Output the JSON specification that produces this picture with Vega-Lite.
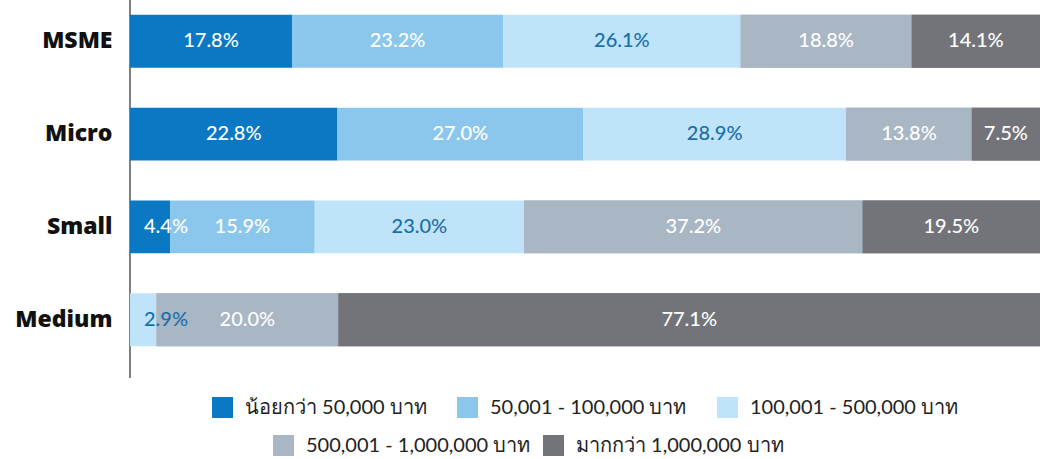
{
  "$schema": "https://vega.github.io/schema/vega-lite/v6.json",
  "width": 910,
  "height": 378,
  "autosize": "none",
  "padding": {"left": 130, "top": 0, "right": 0, "bottom": 81},
  "background": "white",
  "config": {"view": {"stroke": null}, "font": "Lato"},
  "data": {
    "values": [
      {"group": "MSME", "band": "น้อยกว่า 50,000 บาท", "order": 1, "value": 17.8},
      {"group": "MSME", "band": "50,001 - 100,000 บาท", "order": 2, "value": 23.2},
      {"group": "MSME", "band": "100,001 - 500,000 บาท", "order": 3, "value": 26.1},
      {"group": "MSME", "band": "500,001 - 1,000,000 บาท", "order": 4, "value": 18.8},
      {"group": "MSME", "band": "มากกว่า 1,000,000 บาท", "order": 5, "value": 14.1},
      {"group": "Micro", "band": "น้อยกว่า 50,000 บาท", "order": 1, "value": 22.8},
      {"group": "Micro", "band": "50,001 - 100,000 บาท", "order": 2, "value": 27.0},
      {"group": "Micro", "band": "100,001 - 500,000 บาท", "order": 3, "value": 28.9},
      {"group": "Micro", "band": "500,001 - 1,000,000 บาท", "order": 4, "value": 13.8},
      {"group": "Micro", "band": "มากกว่า 1,000,000 บาท", "order": 5, "value": 7.5},
      {"group": "Small", "band": "น้อยกว่า 50,000 บาท", "order": 1, "value": 4.4},
      {"group": "Small", "band": "50,001 - 100,000 บาท", "order": 2, "value": 15.9},
      {"group": "Small", "band": "100,001 - 500,000 บาท", "order": 3, "value": 23.0},
      {"group": "Small", "band": "500,001 - 1,000,000 บาท", "order": 4, "value": 37.2},
      {"group": "Small", "band": "มากกว่า 1,000,000 บาท", "order": 5, "value": 19.5},
      {"group": "Medium", "band": "น้อยกว่า 50,000 บาท", "order": 1, "value": 0},
      {"group": "Medium", "band": "50,001 - 100,000 บาท", "order": 2, "value": 0},
      {"group": "Medium", "band": "100,001 - 500,000 บาท", "order": 3, "value": 2.9},
      {"group": "Medium", "band": "500,001 - 1,000,000 บาท", "order": 4, "value": 20.0},
      {"group": "Medium", "band": "มากกว่า 1,000,000 บาท", "order": 5, "value": 77.1}
    ]
  },
  "transform": [
    {"stack": "value", "groupby": ["group"], "sort": [{"field": "order", "order": "ascending"}], "as": ["v0", "v1"]},
    {"calculate": "(datum.v0 + datum.v1) / 2", "as": "mid"},
    {"calculate": "format(datum.value, '.1f') + '%'", "as": "label"}
  ],
  "encoding": {
    "y": {
      "field": "group",
      "type": "nominal",
      "sort": ["MSME", "Micro", "Small", "Medium"],
      "scale": {"range": [0, 361], "paddingInner": 0.43, "paddingOuter": 0.16},
      "axis": {"title": null, "domain": false, "ticks": false, "labelPadding": 18, "labelFontSize": 23, "labelFontWeight": 800, "labelColor": "#111111", "labelFont": "Open Sans"}
    }
  },
  "layer": [
    {
      "mark": {"type": "rule", "color": "#808080", "strokeWidth": 1.5},
      "encoding": {
        "x": {"datum": 0, "type": "quantitative", "scale": {"domain": [0, 100]}, "axis": null},
        "y": null
      }
    },
    {
      "mark": {"type": "bar"},
      "encoding": {
        "x": {"field": "v0", "type": "quantitative", "scale": {"domain": [0, 100]}, "axis": null},
        "x2": {"field": "v1"},
        "color": {
          "field": "band",
          "type": "nominal",
          "scale": {
            "domain": ["น้อยกว่า 50,000 บาท", "50,001 - 100,000 บาท", "100,001 - 500,000 บาท", "500,001 - 1,000,000 บาท", "มากกว่า 1,000,000 บาท"],
            "range": ["#0b78c3", "#8bc7ec", "#bfe3f8", "#a9b6c4", "#737479"]
          },
          "legend": {
            "values": ["น้อยกว่า 50,000 บาท", "50,001 - 100,000 บาท", "100,001 - 500,000 บาท"],
            "title": null,
            "orient": "none",
            "legendX": 82,
            "legendY": 397,
            "direction": "horizontal",
            "columns": 3,
            "columnPadding": 30,
            "symbolType": "square",
            "symbolSize": 441,
            "symbolStrokeWidth": 0,
            "symbolOpacity": 1,
            "labelFontSize": 20,
            "labelColor": "#222222",
            "labelOffset": 12,
            "labelLimit": 400
          }
        }
      }
    },
    {
      "transform": [{"filter": "datum.order >= 4"}],
      "mark": {"type": "bar"},
      "encoding": {
        "x": {"field": "v0", "type": "quantitative", "scale": {"domain": [0, 100]}, "axis": null},
        "x2": {"field": "v1"},
        "fill": {
          "field": "band",
          "type": "nominal",
          "scale": {
            "domain": ["500,001 - 1,000,000 บาท", "มากกว่า 1,000,000 บาท"],
            "range": ["#a9b6c4", "#737479"]
          },
          "legend": {
            "title": null,
            "orient": "none",
            "legendX": 143,
            "legendY": 435,
            "direction": "horizontal",
            "columns": 2,
            "columnPadding": 12,
            "symbolType": "square",
            "symbolSize": 441,
            "symbolStrokeWidth": 0,
            "symbolOpacity": 1,
            "labelFontSize": 20,
            "labelColor": "#222222",
            "labelOffset": 12,
            "labelLimit": 400
          }
        }
      }
    },
    {
      "transform": [{"filter": "datum.value >= 5"}],
      "mark": {"type": "text", "fontSize": 20, "font": "Lato", "fontWeight": 500},
      "encoding": {
        "x": {"field": "mid", "type": "quantitative", "scale": {"domain": [0, 100]}, "axis": null},
        "text": {"field": "label", "type": "nominal"},
        "color": {"condition": {"test": "datum.order === 3", "value": "#1a6fa9"}, "value": "#ffffff"}
      }
    },
    {
      "transform": [{"filter": "datum.value > 0 && datum.value < 5"}],
      "mark": {"type": "text", "fontSize": 20, "font": "Lato", "fontWeight": 500, "align": "left", "dx": 14},
      "encoding": {
        "x": {"field": "v0", "type": "quantitative", "scale": {"domain": [0, 100]}, "axis": null},
        "text": {"field": "label", "type": "nominal"},
        "color": {"condition": {"test": "datum.order === 3", "value": "#1a6fa9"}, "value": "#ffffff"}
      }
    }
  ]
}
